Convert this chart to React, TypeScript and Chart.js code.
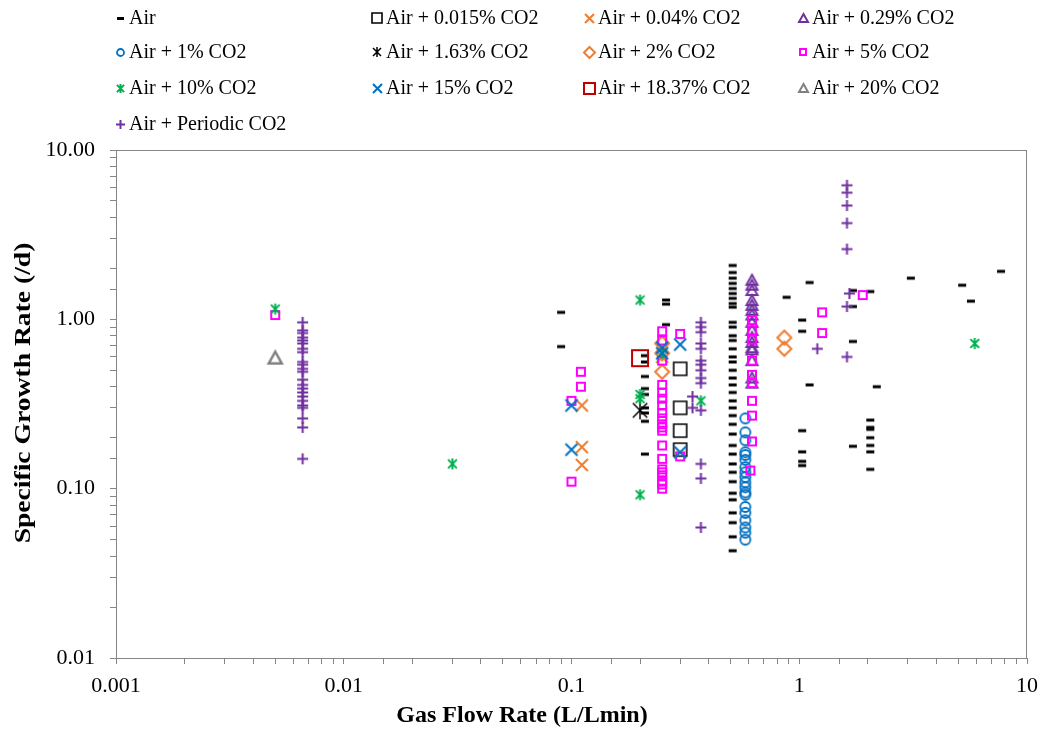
import React, { useEffect, useRef } from 'react';
import { Chart, registerables } from 'chart.js';

Chart.register(...registerables);

const FONT = '"Liberation Serif", "Times New Roman", serif';

// ---------------- data ----------------
const airX = [
  0.09, 0.09,
  0.21, 0.21, 0.21, 0.21, 0.21, 0.21, 0.21, 0.21, 0.21,
  0.26, 0.26, 0.26,
  0.51, 0.51, 0.51, 0.51, 0.51, 0.51, 0.51, 0.51, 0.51, 0.51, 0.51, 0.51,
  0.51, 0.51, 0.51, 0.51, 0.51, 0.51, 0.51, 0.51, 0.51, 0.51, 0.51, 0.51,
  0.51, 0.51, 0.51, 0.51, 0.51, 0.51, 0.51, 0.51, 0.51, 0.51, 0.51, 0.51,
  0.88,
  1.03, 1.03, 1.03, 1.03, 1.03, 1.03,
  1.11, 1.11,
  1.72, 1.72, 1.72, 1.72,
  2.05, 2.05, 2.05, 2.05, 2.05, 2.05, 2.05, 2.05,
  2.19, 3.09, 5.19, 5.67, 7.69,
];
const airY = [
  1.10, 0.69,
  0.61, 0.56, 0.46, 0.39, 0.36, 0.30, 0.28, 0.25, 0.16,
  1.30, 1.23, 0.93,
  2.08, 1.89, 1.75, 1.63, 1.52, 1.42, 1.33, 1.24, 1.18, 0.96, 0.90, 0.80,
  0.75, 0.67, 0.60, 0.56, 0.50, 0.45, 0.41, 0.37, 0.33, 0.30, 0.27, 0.24,
  0.21, 0.18, 0.16, 0.14, 0.125, 0.11, 0.094, 0.086, 0.072, 0.063, 0.052, 0.043,
  1.35,
  0.99, 0.85, 0.22, 0.165, 0.145, 0.137,
  1.65, 0.41,
  1.48, 1.19, 0.74, 0.178,
  1.46, 0.254, 0.23, 0.224, 0.20, 0.18, 0.165, 0.13,
  0.40, 1.75, 1.59, 1.28, 1.92,
];

const co2_0015X = [0.3, 0.3, 0.3, 0.3];
const co2_0015Y = [0.51, 0.30, 0.22, 0.17];

const co2_004X = [0.111, 0.111, 0.111, 0.25];
const co2_004Y = [0.31, 0.176, 0.138, 0.60];

const co2_029X = [0.62, 0.62, 0.62, 0.62, 0.62, 0.62, 0.62, 0.62, 0.62, 0.62, 0.62, 0.62, 0.62, 0.62, 0.62, 0.62];
const co2_029Y = [1.70, 1.59, 1.48, 1.29, 1.21, 1.13, 1.06, 0.96, 0.86, 0.78, 0.73, 0.68, 0.66, 0.57, 0.45, 0.42];

const co2_1X = [0.58, 0.58, 0.58, 0.58, 0.58, 0.58, 0.58, 0.58, 0.58, 0.58, 0.58, 0.58, 0.58, 0.58, 0.58, 0.58, 0.58, 0.58, 0.58];
const co2_1Y = [0.26, 0.215, 0.193, 0.164, 0.158, 0.148, 0.134, 0.125, 0.117, 0.109, 0.102, 0.095, 0.092, 0.078, 0.072, 0.065, 0.059, 0.055, 0.050];

const co2_163X = [0.2];
const co2_163Y = [0.29];

const co2_2X = [0.25, 0.25, 0.25, 0.86, 0.86];
const co2_2Y = [0.72, 0.63, 0.49, 0.78, 0.67];

const co2_5X = [
  0.005,
  0.1, 0.1,
  0.11, 0.11,
  0.25, 0.25, 0.25, 0.25, 0.25, 0.25, 0.25, 0.25, 0.25, 0.25,
  0.25, 0.25, 0.25, 0.25, 0.25, 0.25, 0.25, 0.25, 0.25, 0.25,
  0.3, 0.3,
  0.62, 0.62, 0.62, 0.62, 0.62, 0.62, 0.62, 0.62, 0.62, 0.61,
  1.26, 1.26,
  1.9,
];
const co2_5Y = [
  1.06,
  0.33, 0.11,
  0.49, 0.40,
  0.85, 0.75, 0.57, 0.41, 0.37, 0.34, 0.31, 0.28, 0.26, 0.24,
  0.23, 0.22, 0.18, 0.15, 0.13, 0.125, 0.12, 0.11, 0.106, 0.10,
  0.82, 0.155,
  0.99, 0.86, 0.76, 0.57, 0.47, 0.42, 0.33, 0.27, 0.19, 0.128,
  1.10, 0.83,
  1.39,
];

const co2_10X = [0.005, 0.03, 0.2, 0.2, 0.2, 0.2, 0.25, 0.37, 5.9];
const co2_10Y = [1.15, 0.14, 1.30, 0.36, 0.34, 0.092, 0.63, 0.33, 0.72];

const co2_15X = [0.1, 0.1, 0.25, 0.25, 0.3, 0.3];
const co2_15Y = [0.31, 0.17, 0.68, 0.63, 0.71, 0.164];

const co2_1837X = [0.2];
const co2_1837Y = [0.59];

const co2_20X = [0.005];
const co2_20Y = [0.59];

const periodicX = [
  0.0066, 0.0066, 0.0066, 0.0066, 0.0066, 0.0066, 0.0066, 0.0066, 0.0066, 0.0066, 0.0066, 0.0066,
  0.0066, 0.0066, 0.0066, 0.0066, 0.0066, 0.0066, 0.0066, 0.0066, 0.0066, 0.0066, 0.0066,
  0.34, 0.34,
  0.37, 0.37, 0.37, 0.37, 0.37, 0.37, 0.37, 0.37, 0.37, 0.37, 0.37, 0.37, 0.37, 0.37,
  1.2,
  1.62, 1.62, 1.62, 1.62, 1.62, 1.62, 1.62,
  1.66,
];
const periodicY = [
  0.96, 0.86, 0.83, 0.78, 0.75, 0.72, 0.67, 0.64, 0.56, 0.54, 0.51, 0.49,
  0.44, 0.41, 0.39, 0.37, 0.35, 0.33, 0.31, 0.30, 0.26, 0.23, 0.15,
  0.35, 0.30,
  0.96, 0.90, 0.84, 0.72, 0.67, 0.57, 0.54, 0.50, 0.45, 0.42, 0.29, 0.14, 0.115, 0.059,
  0.67,
  6.19, 5.6, 4.7, 3.7, 2.6, 1.19, 0.60,
  1.42,
];

const xTickLabels = ['0.001', '0.01', '0.1', '1', '10'];
const yTickLabels = ['0.01', '0.10', '1.00', '10.00'];

const ORANGE = '#ED7D31';
const BLUE = '#0070C0';
const PURPLE = '#7030A0';
const GREEN = '#00B050';
const MAGENTA = '#FF00FF';
const RED = '#C00000';
const GRAY = '#808080';
const AXIS = '#868686';

type Kind = 'dash' | 'square' | 'x' | 'tri' | 'circle' | 'star' | 'diamond' | 'plus';

function makeMarker(kind: Kind, color: string, size: number, lw: number): HTMLCanvasElement {
  const pad = Math.ceil(lw) + 1;
  const dim = Math.ceil(size + pad * 2);
  const c = document.createElement('canvas');
  c.width = dim;
  c.height = dim;
  const g = c.getContext('2d')!;
  const m = dim / 2;
  const h = size / 2;
  g.strokeStyle = color;
  g.fillStyle = color;
  g.lineWidth = lw;
  g.beginPath();
  switch (kind) {
    case 'dash':
      g.fillRect(m - h, m - 1.5, size, 3);
      return c;
    case 'square':
      g.rect(m - h, m - h, size, size);
      break;
    case 'x':
      g.moveTo(m - h, m - h); g.lineTo(m + h, m + h);
      g.moveTo(m - h, m + h); g.lineTo(m + h, m - h);
      break;
    case 'plus':
      g.moveTo(m - h, m); g.lineTo(m + h, m);
      g.moveTo(m, m - h); g.lineTo(m, m + h);
      break;
    case 'star':
      g.moveTo(m - h * 0.8, m - h * 0.8); g.lineTo(m + h * 0.8, m + h * 0.8);
      g.moveTo(m - h * 0.8, m + h * 0.8); g.lineTo(m + h * 0.8, m - h * 0.8);
      g.moveTo(m, m - h); g.lineTo(m, m + h);
      break;
    case 'tri':
      g.moveTo(m, m - h);
      g.lineTo(m + h, m + h * 0.8);
      g.lineTo(m - h, m + h * 0.8);
      g.closePath();
      break;
    case 'circle':
      g.arc(m, m, h, 0, Math.PI * 2);
      break;
    case 'diamond':
      g.moveTo(m, m - h); g.lineTo(m + h, m); g.lineTo(m, m + h); g.lineTo(m - h, m);
      g.closePath();
      break;
  }
  g.stroke();
  return c;
}

interface SeriesDef {
  label: string;
  xs: number[];
  ys: number[];
  kind: Kind;
  color: string;
  size: number;
  lw: number;
  legendSize: number;
}

const SERIES: SeriesDef[] = [
  { label: 'Air', xs: airX, ys: airY, kind: 'dash', color: '#000000', size: 8, lw: 3, legendSize: 7 },
  { label: 'Air + 0.015% CO2', xs: co2_0015X, ys: co2_0015Y, kind: 'square', color: '#000000', size: 13, lw: 1.6, legendSize: 10 },
  { label: 'Air + 0.04% CO2', xs: co2_004X, ys: co2_004Y, kind: 'x', color: ORANGE, size: 12, lw: 2, legendSize: 9 },
  { label: 'Air + 0.29% CO2', xs: co2_029X, ys: co2_029Y, kind: 'tri', color: PURPLE, size: 11, lw: 2, legendSize: 9 },
  { label: 'Air + 1% CO2', xs: co2_1X, ys: co2_1Y, kind: 'circle', color: BLUE, size: 10, lw: 1.8, legendSize: 7 },
  { label: 'Air + 1.63% CO2', xs: co2_163X, ys: co2_163Y, kind: 'star', color: '#000000', size: 18, lw: 1.5, legendSize: 10 },
  { label: 'Air + 2% CO2', xs: co2_2X, ys: co2_2Y, kind: 'diamond', color: ORANGE, size: 14, lw: 2, legendSize: 11 },
  { label: 'Air + 5% CO2', xs: co2_5X, ys: co2_5Y, kind: 'square', color: MAGENTA, size: 8, lw: 2, legendSize: 6 },
  { label: 'Air + 10% CO2', xs: co2_10X, ys: co2_10Y, kind: 'star', color: GREEN, size: 11, lw: 2, legendSize: 9 },
  { label: 'Air + 15% CO2', xs: co2_15X, ys: co2_15Y, kind: 'x', color: BLUE, size: 12, lw: 2, legendSize: 9 },
  { label: 'Air + 18.37% CO2', xs: co2_1837X, ys: co2_1837Y, kind: 'square', color: RED, size: 16, lw: 2, legendSize: 11 },
  { label: 'Air + 20% CO2', xs: co2_20X, ys: co2_20Y, kind: 'tri', color: GRAY, size: 13, lw: 2.5, legendSize: 9 },
  { label: 'Air + Periodic CO2', xs: periodicX, ys: periodicY, kind: 'plus', color: PURPLE, size: 11, lw: 2, legendSize: 9 },
];

const LEGEND_COLS = [120, 377, 589, 803];
const LEGEND_ROWS = [18, 52, 88, 124];

function powerLabel(v: number, labels: string[], minExp: number): string {
  const l = Math.log10(v);
  const e = Math.round(l);
  if (Math.abs(l - e) > 1e-6) return '';
  const idx = e - minExp;
  return labels[idx] ?? '';
}

export default function App() {
  const ref = useRef<HTMLCanvasElement | null>(null);

  useEffect(() => {
    document.body.style.margin = '0';
    const canvas = ref.current;
    if (!canvas) return;

    const plotMarkers = SERIES.map((s) => makeMarker(s.kind, s.color, s.size, s.lw));
    const legendMarkers = SERIES.map((s) =>
      makeMarker(s.kind, s.color, s.legendSize, s.kind === 'dash' ? 3 : Math.min(s.lw, 2))
    );

    const frame = {
      id: 'frameAndTitles',
      beforeDatasetsDraw(chart: any) {
        const { ctx, chartArea } = chart;
        ctx.save();
        ctx.strokeStyle = AXIS;
        ctx.lineWidth = 1;
        ctx.strokeRect(chartArea.left + 0.5, chartArea.top + 0.5, chartArea.right - chartArea.left - 1, chartArea.bottom - chartArea.top);
        ctx.restore();
      },
      afterDraw(chart: any) {
        const { ctx } = chart;
        ctx.save();
        // legend
        ctx.font = `20px ${FONT}`;
        ctx.fillStyle = '#000';
        ctx.textBaseline = 'middle';
        ctx.textAlign = 'left';
        SERIES.forEach((s, i) => {
          const col = i % 4;
          const row = Math.floor(i / 4);
          const cx = LEGEND_COLS[col];
          const cy = LEGEND_ROWS[row];
          const img = legendMarkers[i];
          ctx.drawImage(img, Math.round(cx - img.width / 2), Math.round(cy - img.height / 2));
          ctx.fillText(s.label, cx + 9, cy + 1);
        });
        // axis titles
        ctx.font = `bold 24px ${FONT}`;
        ctx.textAlign = 'center';
        ctx.textBaseline = 'middle';
        ctx.fillText('Gas Flow Rate (L/Lmin)', 522, 716);
        ctx.translate(24, 393);
        ctx.rotate(-Math.PI / 2);
        ctx.scale(1.15, 1);
        ctx.fillText('Specific Growth Rate (/d)', 0, 0);
        ctx.restore();
      },
    };

    const n = SERIES.length;
    const chart = new Chart(canvas, {
      type: 'scatter',
      data: {
        datasets: SERIES.map((s, i) => ({
          label: s.label,
          data: s.xs.map((x, j) => ({ x, y: s.ys[j] })),
          pointStyle: plotMarkers[i] as any,
          pointRadius: 5,
          pointHoverRadius: 5,
          showLine: false,
          order: n - i,
        })),
      },
      options: {
        animation: false,
        responsive: false,
        maintainAspectRatio: false,
        layout: { padding: { top: 150, right: 13, left: 0, bottom: 0 } },
        plugins: {
          legend: { display: false },
          tooltip: { enabled: false },
        },
        scales: {
          x: {
            type: 'logarithmic',
            position: 'bottom',
            min: 0.001,
            max: 10,
            afterFit: (s: any) => {
              s.height = 73;
              s.paddingLeft = 0;
              s.paddingRight = 0;
            },
            border: { display: true, color: AXIS, width: 1 },
            grid: { display: true, drawOnChartArea: false, drawTicks: true, tickLength: 6, color: AXIS },
            ticks: {
              autoSkip: false,
              maxRotation: 0,
              minRotation: 0,
              padding: 9,
              color: '#000',
              font: { family: FONT, size: 22 },
              callback: (v: any) => powerLabel(Number(v), xTickLabels, -3),
            },
          },
          y: {
            type: 'logarithmic',
            position: 'left',
            min: 0.01,
            max: 10,
            afterFit: (s: any) => {
              s.width = 116;
              s.paddingTop = 0;
              s.paddingBottom = 0;
            },
            border: { display: true, color: AXIS, width: 1 },
            grid: { display: true, drawOnChartArea: false, drawTicks: true, tickLength: 6, color: AXIS },
            ticks: {
              autoSkip: false,
              padding: 15,
              color: '#000',
              font: { family: FONT, size: 22 },
              callback: (v: any) => powerLabel(Number(v), yTickLabels, -2),
            },
          },
        },
      },
      plugins: [frame],
    });

    return () => {
      chart.destroy();
    };
  }, []);

  return (
    <div style={{ width: 1040, height: 731 }}>
      <canvas ref={ref} width={1040} height={731} style={{ display: 'block', width: 1040, height: 731 }} />
    </div>
  );
}
